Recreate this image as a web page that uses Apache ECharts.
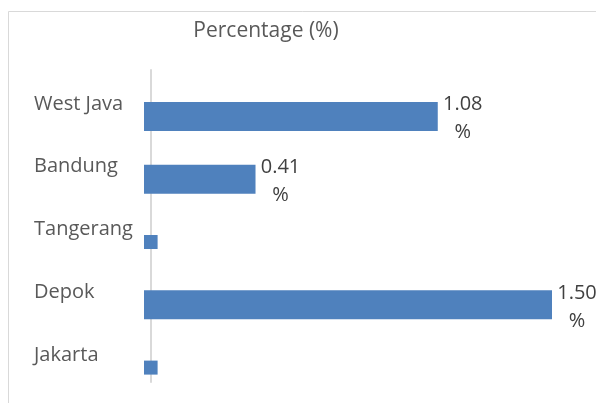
<!DOCTYPE html>
<html>
<head>
<meta charset="utf-8">
<script src="https://cdn.jsdelivr.net/npm/echarts@6/dist/echarts.min.js"></script>
<style>html,body{margin:0;padding:0;background:#fff}#c{width:596px;height:403px}</style>
</head>
<body>
<div id="c"></div>
<script>
var categories = ['West Java', 'Bandung', 'Tangerang', 'Depok', 'Jakarta'];
var labelledValues = [1.08, 0.41, null, 1.50, null];
var smallValues = [null, null, 0.05, null, 0.05];
var titleText = 'Percentage (%)';

var FONT = 'Open Sans';
var TXT = '#595959';
var BAR = '#4f81bd';

var chart = echarts.init(document.getElementById('c'));
chart.setOption({
  animation: false,
  backgroundColor: '#fff',
  title: {
    text: titleText, left: 261, top: 16, textAlign: 'center',
    textStyle: { fontFamily: FONT, fontSize: 21, fontWeight: 'normal', color: TXT }
  },
  graphic: [{
    type: 'rect', silent: true, z: -10,
    shape: { x: 8.5, y: 11.5, width: 800, height: 600 },
    style: { fill: 'none', stroke: '#d9d9d9', lineWidth: 1 }
  }],
  grid: [
    { left: 144, right: 44, top: 85, bottom: 4 },
    { left: 151, width: 10, top: 70, bottom: 21 }
  ],
  xAxis: [
    { gridIndex: 0, type: 'value', min: 0, max: 1.5, show: false },
    { gridIndex: 0, type: 'value', min: 0, max: 1.5, show: false },
    { gridIndex: 1, type: 'value', show: false }
  ],
  yAxis: [
    {
      gridIndex: 0, type: 'category', data: categories, inverse: true,
      axisLine: { show: false }, axisTick: { show: false },
      axisLabel: {
        align: 'left', margin: 110, fontFamily: FONT, fontSize: 20, color: TXT,
        lineHeight: 25,
        formatter: function (v) { return v + '\n\u00a0'; }
      }
    },
    {
      gridIndex: 0, type: 'category', data: categories, inverse: true, show: false
    },
    {
      gridIndex: 1, type: 'category', data: categories, inverse: true,
      axisLine: { show: true, lineStyle: { color: '#d9d9d9', width: 2 } },
      axisTick: { show: false }, axisLabel: { show: false }
    }
  ],
  series: [
    {
      type: 'bar', xAxisIndex: 0, yAxisIndex: 0, data: labelledValues, barWidth: 29,
      itemStyle: { color: BAR },
      label: {
        show: true, position: 'right', distance: 25, align: 'center',
        offset: [0, 2], lineHeight: 28,
        fontFamily: FONT, fontSize: 20, color: '#404040',
        formatter: function (p) { return p.value.toFixed(2) + '\n%'; }
      }
    },
    {
      type: 'bar', xAxisIndex: 1, yAxisIndex: 1, data: smallValues, barWidth: 14,
      itemStyle: { color: BAR }
    }
  ]
});
</script>
</body>
</html>
